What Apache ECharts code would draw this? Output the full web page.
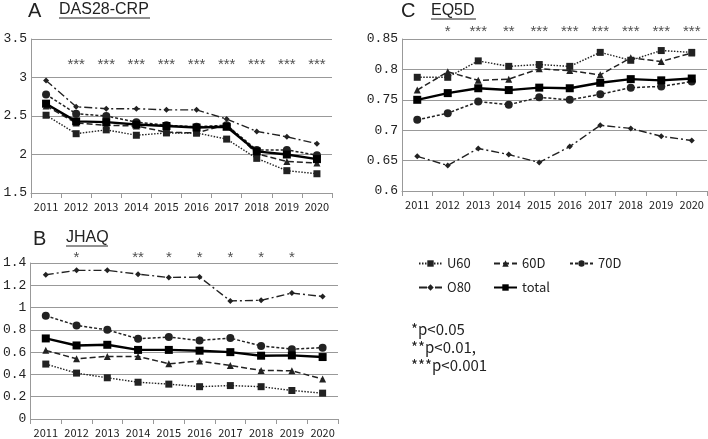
<!DOCTYPE html>
<html><head><meta charset="utf-8">
<script src="https://cdn.jsdelivr.net/npm/echarts@6/dist/echarts.min.js"></script>
<style>html,body{margin:0;padding:0;background:#fff}#c{width:708px;height:439px}</style>
</head><body><div id="c"></div>
<script>
const years = ['2011','2012','2013','2014','2015','2016','2017','2018','2019','2020'];
const groups = ['U60','60D','70D','O80','total'];

// A: DAS28-CRP
const dasU60   = [2.51,2.27,2.32,2.25,2.28,2.28,2.20,1.95,1.79,1.75];
const das60D   = [2.63,2.41,2.38,2.37,2.29,2.28,2.39,2.01,1.91,1.89];
const das70D   = [2.78,2.53,2.50,2.42,2.38,2.36,2.38,2.06,2.06,1.99];
const dasO80   = [2.96,2.62,2.595,2.595,2.58,2.58,2.46,2.30,2.23,2.14];
const dasTotal = [2.66,2.43,2.42,2.39,2.37,2.35,2.36,2.04,2.00,1.94];
const dasStars = ['','***','***','***','***','***','***','***','***','***'];

// B: JHAQ
const jhaqU60   = [0.493,0.412,0.37,0.33,0.313,0.29,0.30,0.29,0.256,0.232];
const jhaq60D   = [0.616,0.54,0.562,0.562,0.496,0.52,0.48,0.436,0.433,0.358];
const jhaq70D   = [0.927,0.84,0.80,0.72,0.735,0.705,0.726,0.655,0.627,0.64];
const jhaqO80   = [1.295,1.334,1.334,1.30,1.27,1.274,1.06,1.065,1.13,1.10];
const jhaqTotal = [0.723,0.66,0.666,0.62,0.62,0.613,0.60,0.568,0.571,0.556];
const jhaqStars = ['','*','','**','*','*','*','*','*',''];

// C: EQ5D
const eqU60   = [0.787,0.787,0.814,0.805,0.808,0.805,0.828,0.815,0.831,0.828];
const eq60D   = [0.766,0.796,0.782,0.784,0.801,0.798,0.791,0.819,0.813,0.827];
const eq70D   = [0.717,0.728,0.747,0.742,0.754,0.750,0.759,0.770,0.772,0.780];
const eqO80   = [0.657,0.642,0.670,0.660,0.647,0.673,0.708,0.703,0.690,0.683];
const eqTotal = [0.750,0.761,0.769,0.766,0.770,0.769,0.778,0.784,0.782,0.785];
const eqStars = ['','*','***','**','***','***','***','***','***','***'];

const pNotes = ['*p<0.05','**p<0.01,','***p<0.001'];

const FONT = 'Noto Sans CJK JP';
const TFONT = 'Liberation Sans';
const YFONT = 'Liberation Mono';
const styles = {
  'U60':   {symbol:'rect', size:7, type:[1.5,1.5], width:1.4},
  '60D':   {symbol:'triangle', size:7, type:[6,3], width:1.5},
  '70D':   {symbol:'circle', size:8, type:[3,2], width:1.5},
  'O80':   {symbol:'diamond', size:6, type:[8,3,2,3], width:1.4},
  'total': {symbol:'rect', size:8, type:'solid', width:2.4}
};
const panels = [
  {data:[dasU60,das60D,das70D,dasO80,dasTotal], stars:dasStars, starY:3.16, min:1.5, max:3.5, interval:0.5,
   grid:{left:31, top:39, width:301, height:154}},
  {data:[jhaqU60,jhaq60D,jhaq70D,jhaqO80,jhaqTotal], stars:jhaqStars, starY:1.445, min:0, max:1.4, interval:0.2,
   grid:{left:28, top:263, width:310, height:156}},
  {data:[eqU60,eq60D,eq70D,eqO80,eqTotal], stars:eqStars, starY:0.862, min:0.6, max:0.85, interval:0.05,
   grid:{left:402, top:39, width:305, height:152}}
];

const grid=[], xAxis=[], yAxis=[], series=[];
panels.forEach((p,i)=>{
  grid.push(Object.assign({containLabel:false}, p.grid));
  xAxis.push({type:'category', gridIndex:i, data:years, boundaryGap:true,
    axisLine:{lineStyle:{color:'#999'}}, axisTick:{show:true, length:5, lineStyle:{color:'#999'}},
    axisLabel:{fontFamily:FONT, fontSize:11, color:'#222', margin:8, interval:0}, splitLine:{show:false}});
  yAxis.push({type:'value', gridIndex:i, min:p.min, max:p.max, interval:p.interval,
    axisLine:{show:true, lineStyle:{color:'#999'}}, axisTick:{show:false},
    axisLabel:{fontFamily:YFONT, fontSize:13, color:'#222', margin:4},
    splitLine:{show:true, lineStyle:{color:'#999', width:1}}});
  groups.forEach((g,k)=>{
    const s = styles[g];
    series.push({type:'line', name:g, xAxisIndex:i, yAxisIndex:i, data:p.data[k],
      symbol:s.symbol, symbolSize:s.size, showSymbol:true, animation:false,
      z: g==='total'?5:3,
      lineStyle:{color:g==='total'?'#000':'#222', width:s.width, type:s.type},
      itemStyle:{color:g==='total'?'#000':'#222'}});
  });
  series.push({type:'scatter', xAxisIndex:i, yAxisIndex:i, clip:false, silent:true, animation:false,
    symbol:'circle', symbolSize:1, itemStyle:{color:'rgba(0,0,0,0)'},
    data: years.map((y,j)=>[j, p.starY]),
    label:{show:true, position:'inside', fontFamily:TFONT, fontSize:15, color:'#222',
      formatter: q => p.stars[q.dataIndex]}});
});

const legendPos = [[418,257],[493,257],[569,257],[418,281],[493,281]];
const legend = groups.map((g,k)=>({data:[g], left:legendPos[k][0], top:legendPos[k][1],
  padding:0, itemWidth:23, itemHeight:8, itemGap:0, selectedMode:false,
  textStyle:{fontFamily:FONT, fontSize:13, color:'#222'}}));

function title(letter, lx, ly, name, nx, ny, uw){
  return [
    {type:'text', left:lx, top:ly, style:{text:letter, font:'20px "'+TFONT+'"', fill:'#222'}},
    {type:'text', left:nx, top:ny, style:{text:name, font:'16px "'+TFONT+'"', fill:'#222'}},
    {type:'line', shape:{x1:nx, y1:ny+16, x2:nx+uw, y2:ny+16}, style:{stroke:'#222', lineWidth:1}}
  ];
}
const graphic = [].concat(
  title('A', 28, 1, 'DAS28-CRP', 59, 2, 91),
  title('B', 33, 229, 'JHAQ', 66, 230, 42),
  title('C', 401, 1, 'EQ5D', 431, 3, 45),
  pNotes.map((t,i)=>({type:'text', left:411, top:322+i*18, style:{text:t, font:'15px "'+FONT+'"', fill:'#222'}}))
);

const chart = echarts.init(document.getElementById('c'));
chart.setOption({animation:false, backgroundColor:'#fff', grid, xAxis, yAxis, series, legend, graphic});
</script></body></html>
